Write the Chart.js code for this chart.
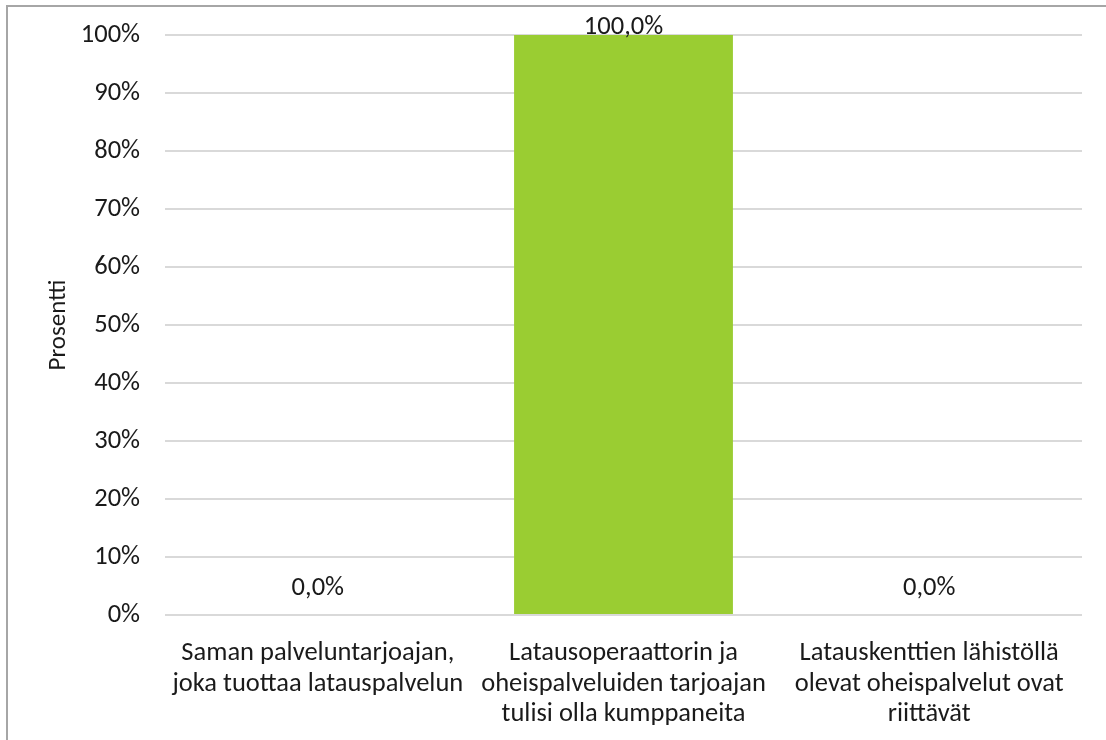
<!DOCTYPE html>
<html>
<head>
<meta charset="utf-8">
<script src="https://cdn.jsdelivr.net/npm/chart.js@4.4.1/dist/chart.umd.min.js"></script>
<style>
  html, body { margin: 0; padding: 0; background: #fff; }
  #wrap { position: relative; width: 1106px; height: 740px; overflow: hidden; }
  #frame { position: absolute; left: 6px; top: 5px; width: 1200px; height: 900px;
           border-top: 2px solid #a6a6a6; border-left: 2px solid #a6a6a6; box-sizing: border-box; }
  canvas { position: absolute; left: 0; top: 0; }
</style>
</head>
<body>
<div id="wrap">
  <div id="frame"></div>
  <canvas id="c" width="1106" height="740"></canvas>
</div>
<script>
// Survey answers and their shares (percent)
const categories = [
  ["Saman palveluntarjoajan,", "joka tuottaa latauspalvelun"],
  ["Latausoperaattorin ja", "oheispalveluiden tarjoajan", "tulisi olla kumppaneita"],
  ["Latauskenttien lähistöllä", "olevat oheispalvelut ovat", "riittävät"]
];
const shares = [0, 100, 0];
const yTicks = [0, 10, 20, 30, 40, 50, 60, 70, 80, 90, 100];

const FONT = "Carlito, Calibri, 'Open Sans', sans-serif";
const TEXT = '#1a1a1a';
const SIZE = 26.5;

// Writes each bar's value above it, kept inside the plot area
const valueLabels = {
  id: 'valueLabels',
  afterDatasetsDraw(chart) {
    const ctx = chart.ctx;
    const meta = chart.getDatasetMeta(0);
    const top = chart.chartArea.top;
    ctx.save();
    ctx.font = SIZE + 'px ' + FONT;
    ctx.fillStyle = TEXT;
    ctx.textAlign = 'center';
    ctx.textBaseline = 'middle';
    meta.data.forEach((bar, i) => {
      const txt = shares[i].toFixed(1).replace('.', ',') + '%';
      const y = Math.max(bar.y - 27, top - 8);
      ctx.fillText(txt, bar.x, y);
    });
    ctx.restore();
  }
};

new Chart(document.getElementById('c'), {
  type: 'bar',
  data: {
    labels: categories,
    datasets: [{
      data: shares,
      backgroundColor: '#9acd32',
      borderWidth: 0,
      categoryPercentage: 1,
      barPercentage: 0.716
    }]
  },
  options: {
    responsive: false,
    animation: false,
    events: [],
    layout: { padding: { left: 44, right: 24, top: 35, bottom: 0 } },
    plugins: { legend: { display: false }, tooltip: { enabled: false } },
    scales: {
      x: {
        grid: { display: false, drawTicks: false },
        border: { display: false },
        ticks: { color: TEXT, font: { family: FONT, size: SIZE, lineHeight: 1.16 }, padding: 23, maxRotation: 0, autoSkip: false },
        afterFit(scale) { scale.height = 125; }
      },
      y: {
        min: 0, max: 100,
        afterBuildTicks(scale) { scale.ticks = yTicks.map(v => ({ value: v })); },
        grid: { color: '#d9d9d9', lineWidth: 2, drawTicks: false },
        border: { display: false },
        ticks: { color: TEXT, font: { family: FONT, size: SIZE }, padding: 25, callback: v => v + '%' },
        title: { display: true, text: 'Prosentti', color: TEXT, font: { family: FONT, size: 25 }, padding: 0 },
        afterFit(scale) {
          scale.width = 121;
          scale.paddingTop = 0;
          scale.paddingBottom = 0;
        }
      }
    }
  },
  plugins: [valueLabels]
});
</script>
</body>
</html>
